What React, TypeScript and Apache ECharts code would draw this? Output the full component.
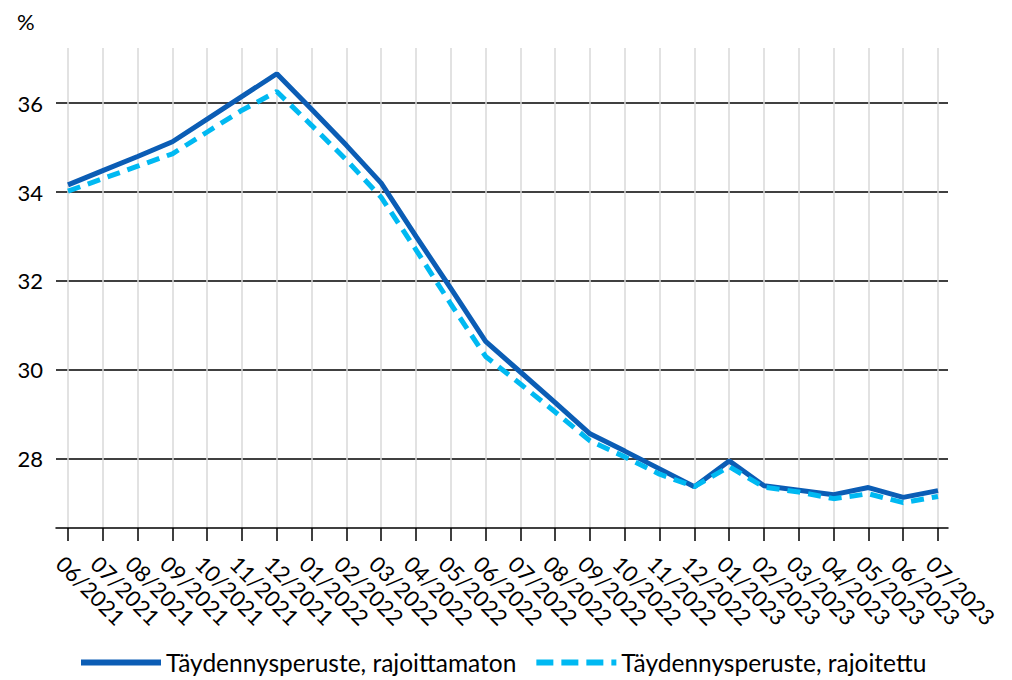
import React, { useEffect, useRef } from "react";
import * as echarts from "echarts";

const categories = [
  "06/2021", "07/2021", "08/2021", "09/2021", "10/2021", "11/2021", "12/2021",
  "01/2022", "02/2022", "03/2022", "04/2022", "05/2022", "06/2022", "07/2022",
  "08/2022", "09/2022", "10/2022", "11/2022", "12/2022", "01/2023", "02/2023",
  "03/2023", "04/2023", "05/2023", "06/2023", "07/2023",
];

const rajoittamaton = [
  34.16, 34.48, 34.8, 35.13, 35.64, 36.15, 36.66, 35.86, 35.05, 34.2, 33.0, 31.83,
  30.64, 29.95, 29.26, 28.56, 28.17, 27.77, 27.37, 27.95, 27.39, 27.29, 27.19,
  27.35, 27.13, 27.28,
];

const rajoitettu = [
  34.02, 34.3, 34.58, 34.86, 35.35, 35.84, 36.26, 35.5, 34.72, 33.88, 32.7, 31.48,
  30.3, 29.68, 29.05, 28.4, 28.04, 27.65, 27.37, 27.82, 27.36, 27.25, 27.1, 27.21,
  27.01, 27.15,
];

const seriesNames = ["Täydennysperuste, rajoittamaton", "Täydennysperuste, rajoitettu"];
const yMin = 26.44;
const yMax = 37.24;

const FONT = "Lato, 'Liberation Sans', sans-serif";
const DARK = "#0b5db5";
const LIGHT = "#00b9f2";

const SOLID_ICON = "path://M0,0H80V6H0Z";
const DASH_ICON = "path://M0,0H17V6H0Z M25,0H42V6H25Z M50,0H67V6H50Z M75,0H80V6H75Z";

export default function App() {
  const ref = useRef<HTMLDivElement>(null);

  useEffect(() => {
    document.body.style.margin = "0";
    if (!ref.current) return;
    const chart = echarts.init(ref.current, undefined, { renderer: "svg" });
    chart.setOption({
      animation: false,
      backgroundColor: "#ffffff",
      textStyle: { fontFamily: FONT },
      graphic: [
        {
          type: "text",
          left: 17,
          top: 10,
          style: { text: "%", fontSize: 22, fill: "#000", fontFamily: FONT },
        },
      ],
      legend: {
        left: 81,
        top: 650,
        padding: 0,
        itemWidth: 80,
        itemHeight: 6,
        itemGap: 20,
        symbolKeepAspect: false,
        textStyle: { fontSize: 24.5, color: "#000", fontFamily: FONT },
        data: [
          { name: seriesNames[0], icon: SOLID_ICON, itemStyle: { color: DARK } },
          { name: seriesNames[1], icon: DASH_ICON, itemStyle: { color: LIGHT } },
        ],
      },
      grid: [
        { left: 56, right: 64, top: 48, bottom: 152 },
        { left: 68, right: 74, top: 48, bottom: 152 },
      ],
      xAxis: [
        {
          gridIndex: 0,
          type: "value",
          min: 0,
          max: 1,
          axisLine: { show: true, onZero: false, lineStyle: { color: "#000", width: 1.5 } },
          axisTick: { show: false },
          axisLabel: { show: false },
          splitLine: { show: false },
        },
        {
          gridIndex: 1,
          type: "category",
          data: categories,
          boundaryGap: false,
          axisLine: { show: false },
          axisTick: { show: true, length: 13, lineStyle: { color: "#000", width: 1.5 } },
          axisLabel: {
            interval: 0,
            rotate: -45,
            fontSize: 22,
            color: "#000",
            fontFamily: FONT,
            margin: 24,
            align: "left",
            verticalAlign: "top",
          },
          splitLine: { show: true, lineStyle: { color: "#d9d9d9", width: 1.5 } },
        },
      ],
      yAxis: [
        {
          gridIndex: 0,
          type: "value",
          min: yMin,
          max: yMax,
          axisLine: { show: false },
          axisTick: { show: false },
          axisLabel: {
            fontSize: 22,
            color: "#000",
            fontFamily: FONT,
            margin: 13,
            showMinLabel: false,
            showMaxLabel: false,
            formatter: (v: number) =>
              Math.abs(v - Math.round(v)) < 1e-6 && Math.round(v) % 2 === 0 ? String(Math.round(v)) : "",
          },
          splitLine: {
            show: true,
            showMinLine: false,
            showMaxLine: false,
            lineStyle: { color: "#000", width: 1.5 },
          },
        },
        {
          gridIndex: 1,
          type: "value",
          min: yMin,
          max: yMax,
          show: false,
          splitLine: { show: false },
        },
      ],
      series: [
        {
          name: seriesNames[0],
          type: "line",
          xAxisIndex: 1,
          yAxisIndex: 1,
          data: rajoittamaton,
          showSymbol: false,
          symbol: "none",
          lineStyle: { color: DARK, width: 5 },
          itemStyle: { color: DARK },
          z: 3,
        },
        {
          name: seriesNames[1],
          type: "line",
          xAxisIndex: 1,
          yAxisIndex: 1,
          data: rajoitettu,
          showSymbol: false,
          symbol: "none",
          lineStyle: { color: LIGHT, width: 5, type: [13, 8] },
          itemStyle: { color: LIGHT },
          z: 4,
        },
      ],
    });
    return () => chart.dispose();
  }, []);

  return <div ref={ref} style={{ width: 1012, height: 680 }} />;
}
